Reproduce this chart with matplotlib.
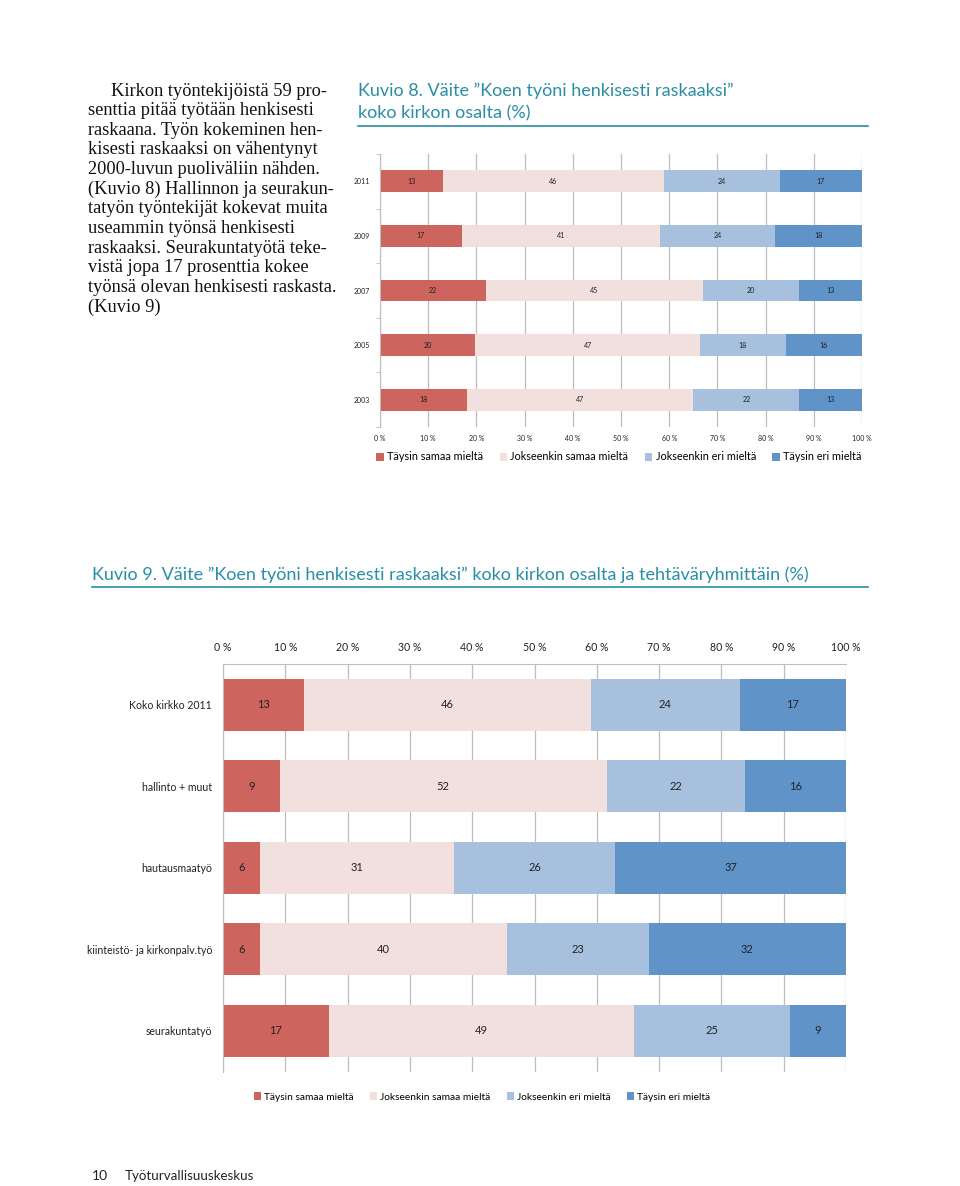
import matplotlib.pyplot as plt
import numpy as np
from matplotlib.lines import Line2D

plt.rcParams['font.family'] = ['Lato', 'DejaVu Sans']

# Kuvio 8 data
years = ['2011', '2009', '2007', '2005', '2003']
k8_taysin_samaa = [13, 17, 22, 20, 18]
k8_jokseenkin_samaa = [46, 41, 45, 47, 47]
k8_jokseenkin_eri = [24, 24, 20, 18, 22]
k8_taysin_eri = [17, 18, 13, 16, 13]

# Kuvio 9 data
groups = ['Koko kirkko 2011', 'hallinto + muut', 'hautausmaatyö',
          'kiinteistö- ja kirkonpalv.työ', 'seurakuntatyö']
k9_taysin_samaa = [13, 9, 6, 6, 17]
k9_jokseenkin_samaa = [46, 52, 31, 40, 49]
k9_jokseenkin_eri = [24, 22, 26, 23, 25]
k9_taysin_eri = [17, 16, 37, 32, 9]

series_names = ['Täysin samaa mieltä', 'Jokseenkin samaa mieltä',
                'Jokseenkin eri mieltä', 'Täysin eri mieltä']
colors = ['#cd645e', '#f2e0df', '#a7c0de', '#6094c9']
teal = '#2a8ea6'
grid_c = '#bdbdbd'
txt_c = '#222222'

W, H = 960, 1186
fig = plt.figure(figsize=(W / 100, H / 100), dpi=100)


def rect(l, t, r, b):
    return [l / W, 1 - b / H, (r - l) / W, (b - t) / H]


def stacked(ax, cats, rows, height, fs):
    vals = np.array(rows, dtype=float)
    shares = vals / vals.sum(axis=0) * 100
    y = np.arange(len(cats))
    left = np.zeros(len(cats))
    for i in range(len(rows)):
        bars = ax.barh(y, shares[i], left=left, height=height, color=colors[i],
                       label=series_names[i], zorder=2)
        ax.bar_label(bars, labels=[str(v) for v in rows[i]], label_type='center',
                     fontsize=fs, color=txt_c)
        left += shares[i]
    ax.set_xlim(0, 100)
    ax.set_ylim(len(cats) - 0.5, -0.5)
    ax.set_xticks(np.arange(0, 101, 10))
    ax.set_xticklabels([f'{t} %' for t in range(0, 101, 10)])
    ax.set_yticks(y)
    ax.set_yticklabels(cats)
    ax.grid(axis='x', color=grid_c, lw=0.9, zorder=0)
    for s in ['right', 'bottom', 'top']:
        ax.spines[s].set_visible(False)
    ax.spines['left'].set_color(grid_c)


# Kuvio 8
ax1 = fig.add_axes(rect(380, 154, 862, 427))
stacked(ax1, years, [k8_taysin_samaa, k8_jokseenkin_samaa, k8_jokseenkin_eri, k8_taysin_eri],
        0.4, 5.1)
ax1.tick_params(axis='both', length=0, labelsize=5.0, colors=txt_c)
ax1.tick_params(axis='x', pad=6)
ax1.tick_params(axis='y', pad=7)
ax1.set_yticks(np.arange(-0.5, 5, 1), minor=True)
ax1.tick_params(axis='y', which='minor', length=3, color=grid_c)
ax1.legend(loc='center', bbox_to_anchor=(619 / W, 1 - 457 / H),
           bbox_transform=fig.transFigure, ncol=4, frameon=False, fontsize=7.8,
           handlelength=0.7, handleheight=0.7, handletextpad=0.3, columnspacing=1.5)

# Kuvio 9
ax2 = fig.add_axes(rect(223, 664, 846, 1071.5))
stacked(ax2, groups, [k9_taysin_samaa, k9_jokseenkin_samaa, k9_jokseenkin_eri, k9_taysin_eri],
        0.64, 8.0)
ax2.xaxis.tick_top()
ax2.spines['top'].set_visible(True)
ax2.spines['top'].set_color(grid_c)
ax2.tick_params(axis='both', length=0, labelsize=7.6, colors=txt_c)
ax2.tick_params(axis='x', pad=8)
ax2.tick_params(axis='y', pad=8)
ax2.legend(loc='center', bbox_to_anchor=(482 / W, 1 - 1097 / H),
           bbox_transform=fig.transFigure, ncol=4, frameon=False, fontsize=7.3,
           handlelength=0.7, handleheight=0.7, handletextpad=0.3, columnspacing=1.6)

# titles
fig.text(358 / W, 1 - 91 / H, 'Kuvio 8. Väite ”Koen työni henkisesti raskaaksi”',
         color=teal, fontsize=13, va='center')
fig.text(358 / W, 1 - 113 / H, 'koko kirkon osalta (%)', color=teal, fontsize=13, va='center')
fig.add_artist(Line2D([358 / W, 868 / W], [1 - 126 / H, 1 - 126 / H], color=teal, lw=1.2))
fig.text(92 / W, 1 - 575 / H,
         'Kuvio 9. Väite ”Koen työni henkisesti raskaaksi” koko kirkon osalta ja tehtäväryhmittäin (%)',
         color=teal, fontsize=13, va='center')
fig.add_artist(Line2D([92 / W, 868 / W], [1 - 587 / H, 1 - 587 / H], color=teal, lw=1.2))

# body text
lines = ['Kirkon työntekijöistä 59 pro-',
         'senttia pitää työtään henkisesti',
         'raskaana. Työn kokeminen hen-',
         'kisesti raskaaksi on vähentynyt',
         '2000-luvun puoliväliin nähden.',
         '(Kuvio 8) Hallinnon ja seurakun-',
         'tatyön työntekijät kokevat muita',
         'useammin työnsä henkisesti',
         'raskaaksi. Seurakuntatyötä teke-',
         'vistä jopa 17 prosenttia kokee',
         'työnsä olevan henkisesti raskasta.',
         '(Kuvio 9)']
for i, ln in enumerate(lines):
    x = 111 if i == 0 else 88
    fig.text(x / W, 1 - (91 + i * 19.65) / H, ln, family='Liberation Serif',
             fontsize=13.2, va='center', color='#111111')

# footer
fig.text(92 / W, 1 - 1176 / H, '10', fontsize=10, va='center', color='#222222')
fig.text(125 / W, 1 - 1176 / H, 'Työturvallisuuskeskus', fontsize=9.6, va='center',
         color='#222222')

fig.savefig('out.png', dpi=100)
